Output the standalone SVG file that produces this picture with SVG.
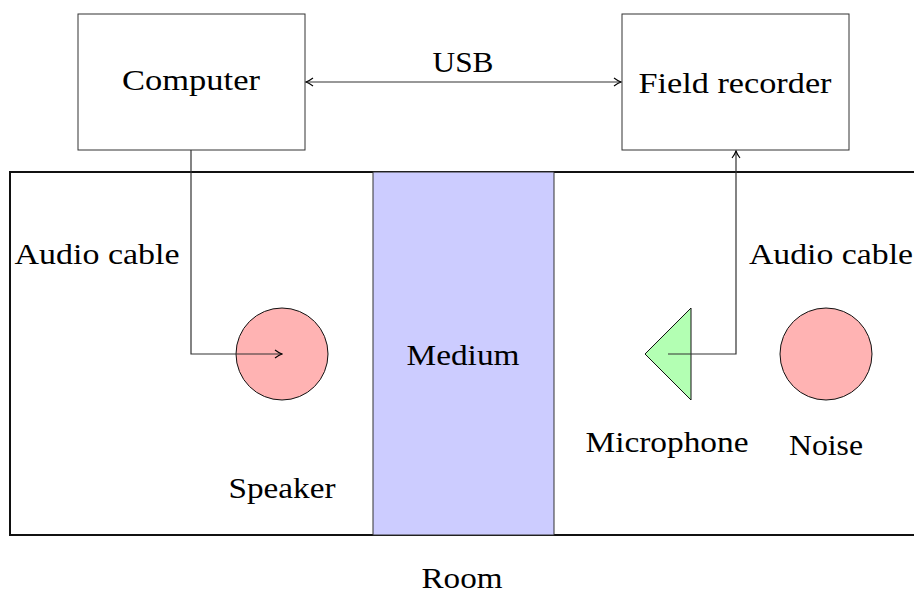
<svg xmlns="http://www.w3.org/2000/svg" width="914" height="594" viewBox="0 0 914 594">
<style>
text{font-family:"Liberation Serif","DejaVu Serif",serif;font-size:29px;fill:#000;text-anchor:middle}
.box{fill:#fff;stroke:#333;stroke-width:1}
.conn{fill:none;stroke:#333;stroke-width:1.2}
</style>
<defs>
<marker id="arr" viewBox="0 0 10 10" refX="9" refY="5" markerWidth="10" markerHeight="10" markerUnits="userSpaceOnUse" orient="auto-start-reverse">
<path d="M2,1 Q6,4 9,5 Q6,6 2,9" fill="none" stroke="#000" stroke-width="1.1"/>
</marker>
</defs>
<rect width="914" height="594" fill="#fff"/>
<g id="room">
<rect x="10" y="172" width="910" height="363" fill="#fff" stroke="#111" stroke-width="2"/>
<text x="462" y="588" textLength="81" lengthAdjust="spacingAndGlyphs">Room</text>
</g>
<g id="medium">
<rect x="373" y="172" width="181" height="363" fill="#ccccff" stroke="#333" stroke-width="1"/>
<text x="463" y="365" textLength="113" lengthAdjust="spacingAndGlyphs">Medium</text>
</g>
<g id="computer">
<rect class="box" x="78" y="14" width="227" height="136"/>
<text x="191" y="90" textLength="138" lengthAdjust="spacingAndGlyphs">Computer</text>
</g>
<g id="recorder">
<rect class="box" x="622" y="14" width="227" height="136"/>
<text x="735" y="93" textLength="193" lengthAdjust="spacingAndGlyphs">Field recorder</text>
</g>
<g id="speaker">
<circle cx="282" cy="354" r="46" fill="#ffb3b3" stroke="#111" stroke-width="1"/>
<text x="282" y="498" textLength="107" lengthAdjust="spacingAndGlyphs">Speaker</text>
</g>
<g id="microphone">
<polygon points="645,354 691,308 691,400" fill="#b3ffb3" stroke="#111" stroke-width="1"/>
<text x="667" y="452" textLength="163" lengthAdjust="spacingAndGlyphs">Microphone</text>
</g>
<g id="noise">
<circle cx="826" cy="354" r="46" fill="#ffb3b3" stroke="#111" stroke-width="1"/>
<text x="826" y="455" textLength="74" lengthAdjust="spacingAndGlyphs">Noise</text>
</g>
<g id="connectors">
<path class="conn" d="M306,82 H621" marker-start="url(#arr)" marker-end="url(#arr)"/>
<text x="463" y="72" textLength="61" lengthAdjust="spacingAndGlyphs">USB</text>
<path class="conn" d="M191,150 V354 H282" marker-end="url(#arr)"/>
<text x="97" y="264" textLength="165" lengthAdjust="spacingAndGlyphs">Audio cable</text>
<path class="conn" d="M668,354 H736 V151" marker-end="url(#arr)"/>
<text x="831" y="264" textLength="164" lengthAdjust="spacingAndGlyphs">Audio cable</text>
</g>
</svg>
